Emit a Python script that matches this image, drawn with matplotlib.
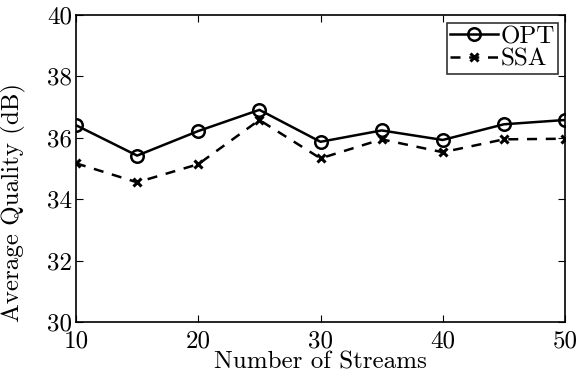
import numpy as np
import matplotlib
matplotlib.use("Agg")
import matplotlib.pyplot as plt

# Datos
streams = [10, 15, 20, 25, 30, 35, 40, 45, 50]
opt = [36.41, 35.42, 36.22, 36.91, 35.87, 36.24, 35.93, 36.44, 36.58]
ssa = [35.17, 34.55, 35.14, 36.58, 35.33, 35.95, 35.53, 35.95, 35.97]

plt.rcParams['font.family'] = ['cmr10', 'DejaVu Serif']
plt.rcParams['mathtext.fontset'] = 'cm'
plt.rcParams['axes.unicode_minus'] = False

fig = plt.figure(figsize=(5.81, 3.80), dpi=100)
ax = fig.add_axes([76 / 581, 1 - 322 / 380, (565 - 76) / 581, (322 - 15) / 380])

ax.plot(streams, opt, 'k-', marker='o', markersize=9, markerfacecolor='none',
        markeredgewidth=1.8, linewidth=1.8, label='OPT')
ax.plot(streams, ssa, 'k--', marker='x', markersize=6, markeredgewidth=2.2,
        linewidth=1.8, dashes=(4, 3.5), label='SSA')

ax.set_xlim(10, 50)
ax.set_ylim(30, 40)
ax.set_xticks([10, 20, 30, 40, 50])
ax.set_yticks([30, 32, 34, 36, 38, 40])
ax.tick_params(direction='in', top=True, right=True, labelsize=18, length=5, pad=3)
ax.tick_params(axis='x', pad=6)
for s in ax.spines.values():
    s.set_linewidth(1.2)

ax.set_xlabel('Number of Streams', fontsize=18, labelpad=-1)
ax.set_ylabel('Average Quality (dB)', fontsize=18)
ax.yaxis.set_label_coords(-0.102, 0.39)

leg = ax.legend(loc='upper right', fontsize=18, frameon=True, fancybox=False,
                edgecolor='black', borderpad=0.12, labelspacing=0.0,
                handlelength=1.9, handletextpad=0.1, borderaxespad=0.3)
leg.get_frame().set_linewidth(1.2)

fig.savefig('out.png', dpi=100)
